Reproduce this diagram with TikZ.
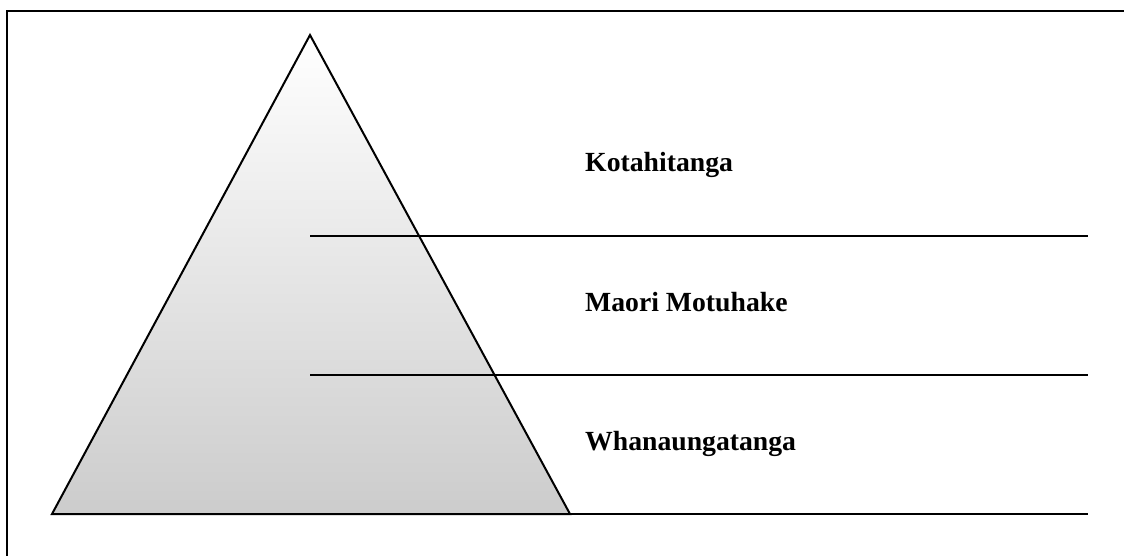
\documentclass[tikz,border=0pt]{standalone}
\usepackage{fontspec}
\setmainfont{Liberation Serif}
\begin{document}
\begin{tikzpicture}[x=1pt,y=-1pt,
  edge/.style={line width=2pt,black},
  lvl/.style={anchor=base west,font=\bfseries\fontsize{27.7}{32}\selectfont,inner sep=0pt}]
\useasboundingbox (0,0) rectangle (1124,555);
\clip (0,0) rectangle (1124,555);
\fill[white] (0,0) rectangle (1124,555);
% frame (cut at right and bottom)
\draw[edge] (7,11) rectangle (1140,570);
% pyramid
\coordinate (apex) at (310,35);
\coordinate (bl) at (52,514);
\coordinate (br) at (570,514);
\shade[top color=white,bottom color=gray!40] (apex) -- (bl) -- (br) -- cycle;
% level lines
\coordinate (l1a) at (310,236); \coordinate (l1b) at (1088,236);
\coordinate (l2a) at (310,375); \coordinate (l2b) at (1088,375);
\coordinate (l3a) at (310,514); \coordinate (l3b) at (1088,514);
\draw[edge] (l1a) -- (l1b);
\draw[edge] (l2a) -- (l2b);
\draw[edge] (l3a) -- (l3b);
\draw[edge,line join=miter] (apex) -- (bl) -- (br) -- cycle;
% labels
\node[lvl] (k) at (585,171) {Kotahitanga};
\node[lvl] (m) at (585,311) {Maori Motuhake};
\node[lvl] (w) at (585,450) {Whanaungatanga};
\end{tikzpicture}
\end{document}
